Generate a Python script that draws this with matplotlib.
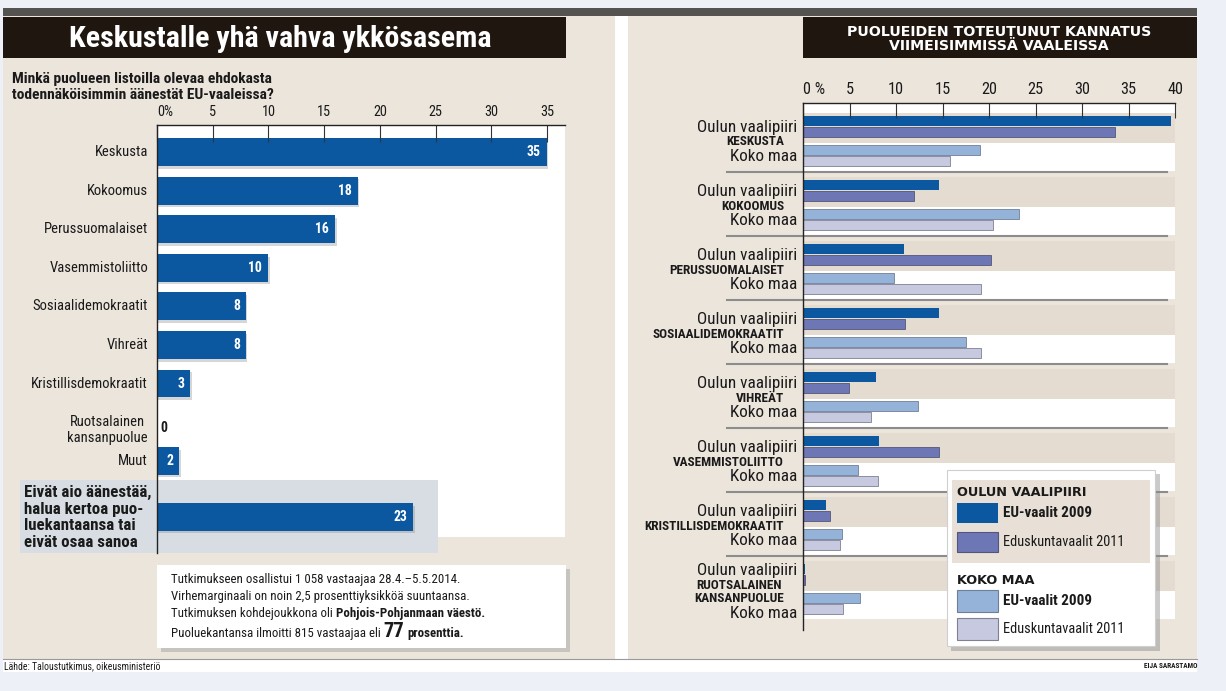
import matplotlib
matplotlib.use('Agg')
import matplotlib.pyplot as plt
import numpy as np
from matplotlib import font_manager
from matplotlib.patches import Rectangle

# pick the narrowest sans that is available
installed = {f.name for f in font_manager.fontManager.ttflist}
FONT = 'Liberation Sans'
for cand in ['Liberation Sans Narrow', 'Roboto Condensed', 'Noto Sans Condensed',
             'Open Sans Condensed', 'Roboto', 'Liberation Sans']:
    if cand in installed:
        FONT = cand
        break
plt.rcParams['font.family'] = [FONT, 'DejaVu Sans']

W, H = 1226, 691

# --- left chart: voting intention, EU elections 2014 (Pohjois-Pohjanmaa)
parties_left = ['Keskusta', 'Kokoomus', 'Perussuomalaiset', 'Vasemmistoliitto',
                'Sosiaalidemokraatit', 'Vihreät', 'Kristillisdemokraatit',
                'Ruotsalainen\nkansanpuolue', 'Muut',
                'Eivät aio äänestää,\nhalua kertoa puo-\nluekantaansa tai\neivät osaa sanoa']
support_left = [35, 18, 16, 10, 8, 8, 3, 0, 2, 23]
left_ticks = [0, 5, 10, 15, 20, 25, 30, 35]
left_tick_labels = ['0%', '5', '10', '15', '20', '25', '30', '35']

# --- right chart: realised support in latest elections
parties_right = ['KESKUSTA', 'KOKOOMUS', 'PERUSSUOMALAISET', 'SOSIAALIDEMOKRAATIT',
                 'VIHREÄT', 'VASEMMISTOLIITTO', 'KRISTILLISDEMOKRAATIT',
                 'RUOTSALAINEN\nKANSANPUOLUE']
oulu_eu2009 = [39.6, 14.6, 10.9, 14.6, 7.8, 8.2, 2.5, 0.2]
oulu_ek2011 = [33.5, 11.9, 20.2, 11.0, 4.9, 14.6, 2.9, 0.2]
koko_eu2009 = [19.0, 23.2, 9.8, 17.5, 12.4, 5.9, 4.2, 6.1]
koko_ek2011 = [15.8, 20.4, 19.1, 19.1, 7.3, 8.1, 4.0, 4.3]
right_ticks = [0, 5, 10, 15, 20, 25, 30, 35, 40]
right_tick_labels = ['0 %', '5', '10', '15', '20', '25', '30', '35', '40']

# colours
BLUE = '#0b58a0'
PURPLE = '#6d77b6'
LIGHTBLUE = '#95b3d9'
LAVENDER = '#c7c9e0'
BEIGE = '#ece5dc'
BAND = '#e5dcd1'
DARK = '#1f1610'
TXT = '#1a1a1a'


def fr(x0, y0, x1, y1):
    # pixel box (top-left origin) -> figure fraction
    return [x0 / W, 1 - y1 / H, (x1 - x0) / W, (y1 - y0) / H]


def box(ax, x0, y0, x1, y1, color, **kw):
    ax.add_patch(Rectangle((x0, y0), x1 - x0, y1 - y0, facecolor=color,
                           edgecolor=kw.pop('edgecolor', 'none'), **kw))


fig = plt.figure(figsize=(W / 100, H / 100), dpi=100)
fig.patch.set_facecolor('#edf1f7')
renderer = fig.canvas.get_renderer()


def size_for(text, target, **kw):
    # font size that makes `text` about `target` pixels wide
    t = fig.text(0, 0, text, fontsize=10, **kw)
    w = t.get_window_extent(renderer).width
    t.remove()
    return 10 * target / w


FS_TITLE = size_for('Keskustalle yhä vahva ykkösasema', 423, fontweight='bold')
FS_RTITLE = size_for('PUOLUEIDEN TOTEUTUNUT KANNATUS', 305, fontweight='bold', family='DejaVu Sans')
FS_QUEST = size_for('Minkä puolueen listoilla olevaa ehdokasta', 260, fontweight='bold')
FS_LABEL = size_for('Sosiaalidemokraatit', 115)
FS_EIVAT = size_for('Eivät aio äänestää,', 127, fontweight='bold')
FS_VALUE = size_for('35', 14, fontweight='bold')
FS_TICK = size_for('30', 14)
FS_RTICK = size_for('40', 16)
FS_INFO = size_for('Tutkimukseen osallistui 1 058 vastaajaa 28.4.–5.5.2014.', 286)
FS_OULU = size_for('Oulun vaalipiiri', 100)
FS_PARTY = size_for('SOSIAALIDEMOKRAATIT', 132, fontweight='bold')
FS_LEG = size_for('Eduskuntavaalit 2011', 121)
FS_LEGB = size_for('EU-vaalit 2009', 89, fontweight='bold')
FS_LEGH = size_for('OULUN VAALIPIIRI', 131, fontweight='bold', family='DejaVu Sans')
FS_SRC = size_for('Lähde: Taloustutkimus, oikeusministeriö', 154)
FS_AUTH = size_for('EIJA SARASTAMO', 54, fontweight='bold')

# background / decoration layer in pixel coordinates
bg = fig.add_axes([0, 0, 1, 1], zorder=0)
bg.set_xlim(0, W)
bg.set_ylim(H, 0)
bg.axis('off')

box(bg, 3, 8, 1197, 16, '#54534f')
box(bg, 3, 16, 1197, 672, 'white')
box(bg, 3, 16, 615, 659, BEIGE)
box(bg, 628, 16, 1197, 659, BEIGE)
bg.plot([3, 1197], [659, 659], color='#9a9a9a', lw=0.8)
box(bg, 3, 17, 566, 58, DARK)
box(bg, 803, 17, 1197, 58, DARK)
bg.text(280, 39, 'Keskustalle yhä vahva ykkösasema', color='white',
        fontsize=FS_TITLE, fontweight='bold', ha='center', va='center')
bg.text(999, 39, 'PUOLUEIDEN TOTEUTUNUT KANNATUS\nVIIMEISIMMISSÄ VAALEISSA',
        color='white', fontsize=FS_RTITLE, fontweight='bold', ha='center', va='center',
        family='DejaVu Sans', linespacing=1.05)
bg.text(12, 87, 'Minkä puolueen listoilla olevaa ehdokasta\ntodennäköisimmin äänestät EU-vaaleissa?',
        color=TXT, fontsize=FS_QUEST, fontweight='bold', ha='left', va='center', linespacing=1.1)

# white plot area and grey "no answer" box of the left chart
box(bg, 157, 125, 565, 537, 'white')
box(bg, 20, 480, 438, 553, '#d7dde2')

# info box with shadow
box(bg, 161, 569, 570, 652, '#9a9a9a', alpha=0.45)
box(bg, 157, 565, 566, 648, 'white')
bg.text(4, 666, 'Lähde: Taloustutkimus, oikeusministeriö', fontsize=FS_SRC, color=TXT,
        ha='left', va='center')
bg.text(1197, 666, 'EIJA SARASTAMO', fontsize=FS_AUTH, fontweight='bold', color=TXT,
        ha='right', va='center')


def put_runs(ax, x, y, runs):
    for s, kw in runs:
        t = ax.text(x, y, s, ha='left', va='baseline', color=TXT, **kw)
        x += t.get_window_extent(renderer).width + 3


put_runs(bg, 171, 583, [('Tutkimukseen osallistui 1 058 vastaajaa 28.4.–5.5.2014.', dict(fontsize=FS_INFO))])
put_runs(bg, 171, 600, [('Virhemarginaali on noin 2,5 prosenttiyksikköä suuntaansa.', dict(fontsize=FS_INFO))])
put_runs(bg, 171, 617, [('Tutkimuksen kohdejoukkona oli', dict(fontsize=FS_INFO)),
                        ('Pohjois-Pohjanmaan väestö.', dict(fontsize=FS_INFO, fontweight='bold'))])
put_runs(bg, 171, 637, [('Puoluekantansa ilmoitti 815 vastaajaa eli', dict(fontsize=FS_INFO)),
                        ('77', dict(fontsize=FS_INFO * 1.6, fontweight='bold')),
                        ('prosenttia.', dict(fontsize=FS_INFO, fontweight='bold'))])

# ---------------- left chart
ax = fig.add_axes(fr(157, 125, 565, 553), zorder=1)
ax.set_facecolor('none')
pos = np.arange(len(support_left), dtype=float)
pos[-1] += 0.45
ax.barh(pos + 0.07, support_left, height=0.72, left=0.12, color='#8a8a8a', alpha=0.35)
ax.barh(pos, support_left, height=0.72, color=BLUE)
ax.set_xlim(0, 36.62)
ax.set_ylim(10.39, -0.70)
for s in ['right', 'bottom']:
    ax.spines[s].set_visible(False)
for s in ['top', 'left']:
    ax.spines[s].set_color('#222222')
    ax.spines[s].set_linewidth(1.0)
ax.xaxis.tick_top()
ax.set_xticks(left_ticks)
ax.set_xticklabels(left_tick_labels)
ax.get_xticklabels()[0].set_ha('left')
ax.tick_params(axis='x', direction='in', length=12, width=0.8, colors='#333333',
               labelcolor=TXT, labelsize=FS_TICK, pad=4)
ax.set_yticks([])
ytr = ax.get_yaxis_transform()
for i, (name, v) in enumerate(zip(parties_left, support_left)):
    p = pos[i]
    if i == len(parties_left) - 1:
        ax.text(-0.326, p + 0.02, name, transform=ytr, ha='left', va='center', fontsize=FS_EIVAT,
                fontweight='bold', color=TXT, linespacing=1.15)
    elif '\n' in name:
        ax.text(-0.022, p + 0.2, name, transform=ytr, ha='right', va='center',
                multialignment='center', fontsize=FS_LABEL, color=TXT, linespacing=1.15)
    else:
        ax.text(-0.022, p, name, transform=ytr, ha='right', va='center', fontsize=FS_LABEL,
                color=TXT)
    if v > 0:
        ax.text(v - 0.55, p, str(v), ha='right', va='center', color='white',
                fontsize=FS_VALUE, fontweight='bold')
    else:
        ax.text(0.3, p + 0.15, str(v), ha='left', va='center', color=TXT,
                fontsize=FS_VALUE, fontweight='bold')

# ---------------- right chart
ax2 = fig.add_axes(fr(803, 103, 1175, 630), zorder=1)
ax2.set_facecolor('none')
n = len(parties_right)
g = np.arange(n, dtype=float)
offs = [0.0, 0.172, 0.453, 0.625]
bh = 0.156
ax2.axhspan(-0.281, -0.125, color='white', lw=0)
for k in range(n):
    ax2.axhspan(k - 0.125, k + 0.344, color=BAND, lw=0)
    ax2.axhspan(k + 0.344, k + 0.781, color='white', lw=0)
ax2.barh(g + offs[0], oulu_eu2009, height=bh, color=BLUE, lw=0)
ax2.barh(g + offs[1], oulu_ek2011, height=bh, color=PURPLE, edgecolor='#55557a', lw=0.6)
ax2.barh(g + offs[2], koko_eu2009, height=bh, color=LIGHTBLUE, edgecolor='#6f7f95', lw=0.6)
ax2.barh(g + offs[3], koko_ek2011, height=bh, color=LAVENDER, edgecolor='#7f8090', lw=0.6)
ax2.set_xlim(0, 40)
ax2.set_ylim(7.95, -0.281)
for s in ['right', 'bottom']:
    ax2.spines[s].set_visible(False)
for s in ['top', 'left']:
    ax2.spines[s].set_color('#222222')
    ax2.spines[s].set_linewidth(1.0)
ax2.xaxis.tick_top()
ax2.set_xticks(right_ticks)
ax2.set_xticklabels(right_tick_labels)
ax2.get_xticklabels()[0].set_ha('left')
ax2.tick_params(axis='x', direction='in', length=11, width=0.8, colors='#333333',
                labelcolor=TXT, labelsize=FS_RTICK, pad=4)
ax2.set_yticks([])
ytr2 = ax2.get_yaxis_transform()
for k, name in enumerate(parties_right):
    two = '\n' in name
    ax2.text(-0.016, k + (0.02 if two else 0.094), 'Oulun vaalipiiri', transform=ytr2,
             ha='right', va='center', fontsize=FS_OULU, color=TXT)
    ax2.text(-0.051, k + (0.35 if two else 0.328), name, transform=ytr2, ha='right',
             va='center', multialignment='center', fontsize=FS_PARTY, fontweight='bold',
             color=TXT, linespacing=1.0)
    ax2.text(-0.016, k + (0.69 if two else 0.547), 'Koko maa', transform=ytr2,
             ha='right', va='center', fontsize=FS_OULU, color=TXT)
    if k < n - 1:
        ax2.plot([-0.204, 0.978], [k + 0.797] * 2, transform=ytr2, clip_on=False,
                 color='#8c8c8c', lw=1.5)

# ---------------- legend overlay
lg = fig.add_axes([0, 0, 1, 1], zorder=5)
lg.set_xlim(0, W)
lg.set_ylim(H, 0)
lg.axis('off')
box(lg, 951, 474, 1160, 651, '#8a8a8a', alpha=0.45)
box(lg, 947, 470, 1155, 646, 'white', edgecolor='#cfcfcf', lw=0.8)
box(lg, 952, 480, 1150, 563, '#e8e0d6')
lg.text(957, 492, 'OULUN VAALIPIIRI', family='DejaVu Sans', fontweight='bold',
        fontsize=FS_LEGH, color=TXT, ha='left', va='center')
lg.text(957, 580, 'KOKO MAA', family='DejaVu Sans', fontweight='bold',
        fontsize=FS_LEGH, color=TXT, ha='left', va='center')
legend_items = [(503, 523, BLUE, 'none', 'EU-vaalit 2009', 'bold'),
                (532, 552, PURPLE, '#55557a', 'Eduskuntavaalit 2011', 'normal'),
                (590, 612, LIGHTBLUE, '#6f7f95', 'EU-vaalit 2009', 'bold'),
                (618, 640, LAVENDER, '#7f8090', 'Eduskuntavaalit 2011', 'normal')]
for y0, y1, c, ec, label, wt in legend_items:
    box(lg, 957, y0, 998, y1, c, edgecolor=ec, lw=0.8)
    lg.text(1003, (y0 + y1) / 2, label, fontsize=FS_LEGB if wt == 'bold' else FS_LEG,
            fontweight=wt, color=TXT, ha='left', va='center')

fig.savefig('out.png', dpi=100)
